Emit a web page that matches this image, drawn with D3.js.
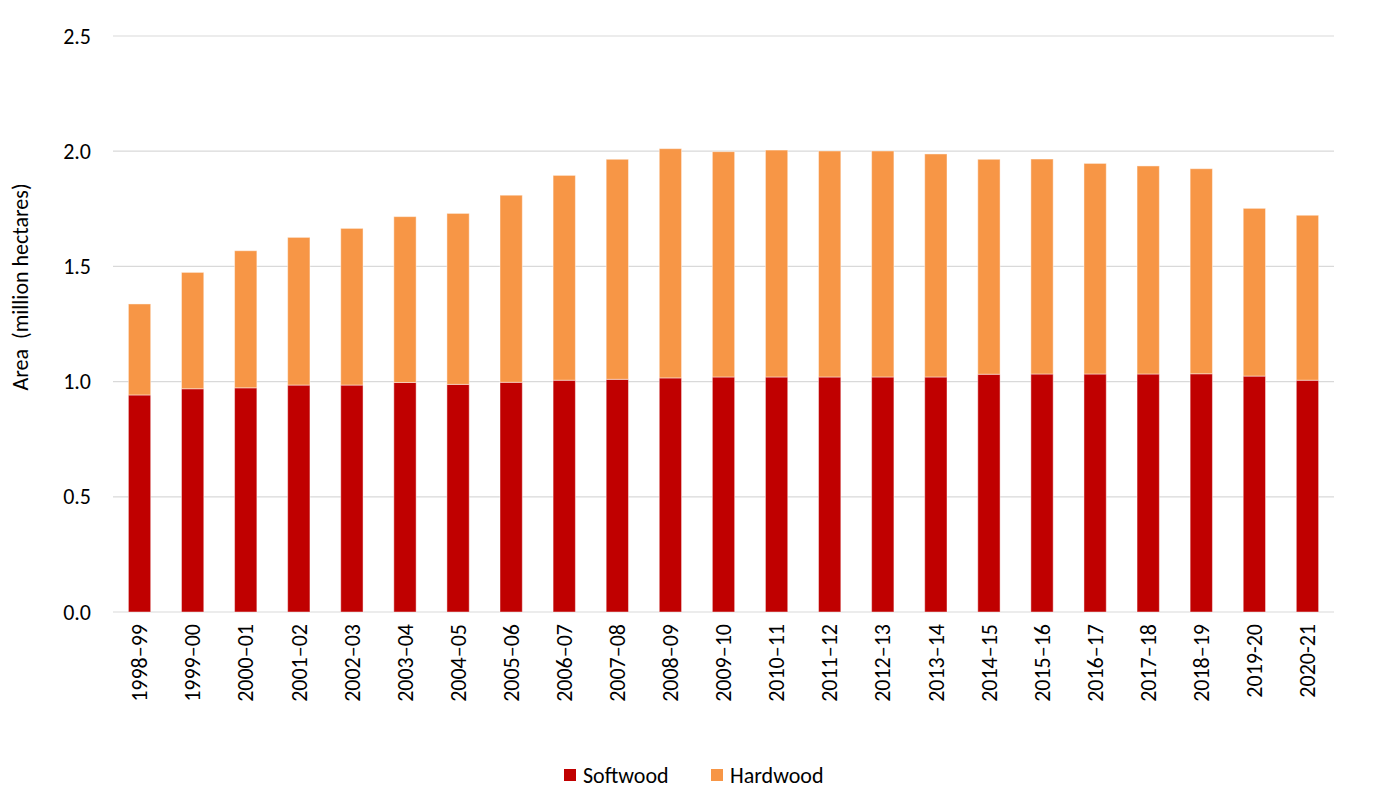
<!DOCTYPE html>
<html>
<head>
<meta charset="utf-8">
<script src="https://cdn.jsdelivr.net/npm/d3@7"></script>
<style>
  body { margin: 0; background: #fff; }
  svg text { font-family: Carlito, Calibri, Lato, "Open Sans", sans-serif; fill: #000; }
</style>
</head>
<body>
<svg id="chart"></svg>
<script>
// Data (million hectares)
const years = ["1998–99", "1999–00", "2000–01", "2001–02", "2002–03", "2003–04", "2004–05",
  "2005–06", "2006–07", "2007–08", "2008–09", "2009–10", "2010–11", "2011–12", "2012–13",
  "2013–14", "2014–15", "2015–16", "2016–17", "2017–18", "2018–19", "2019-20", "2020-21"];

const softwood = [0.942, 0.969, 0.973, 0.985, 0.985, 0.996, 0.988, 0.997, 1.006, 1.010, 1.016,
  1.020, 1.020, 1.020, 1.020, 1.020, 1.032, 1.033, 1.033, 1.033, 1.034, 1.024, 1.006];

const totals = [1.337, 1.474, 1.568, 1.626, 1.665, 1.716, 1.730, 1.809, 1.895, 1.965, 2.011,
  1.998, 2.005, 2.001, 2.001, 1.988, 1.965, 1.966, 1.947, 1.936, 1.924, 1.752, 1.722];

const hardwood = totals.map((t, i) => +(t - softwood[i]).toFixed(3));

const seriesNames = ["Softwood", "Hardwood"];
const seriesColors = ["#C00000", "#F79646"];
const yTicks = [0, 0.5, 1.0, 1.5, 2.0, 2.5];

const W = 1379, H = 800;
const margin = { top: 36, right: 45, bottom: 188, left: 113 };
const fontSize = "22px";

const svg = d3.select("svg#chart")
    .attr("width", W)
    .attr("height", H);

const x = d3.scaleBand()
    .domain(years)
    .range([margin.left, W - margin.right])
    .paddingInner(0.58)
    .paddingOuter(0.29);

const y = d3.scaleLinear()
    .domain([0, 2.5])
    .range([H - margin.bottom, margin.top]);

// Gridlines
svg.append("g")
    .selectAll("line")
    .data(yTicks)
    .join("line")
    .attr("x1", margin.left)
    .attr("x2", W - margin.right)
    .attr("y1", d => y(d))
    .attr("y2", d => y(d))
    .attr("stroke", "#d9d9d9")
    .attr("stroke-width", 1.2);

// Y axis labels
const yAxis = svg.append("g")
    .attr("transform", `translate(${margin.left - 22},0)`)
    .call(d3.axisLeft(y).tickValues(yTicks).tickFormat(d3.format(".1f")).tickSize(0).tickPadding(0));
yAxis.select(".domain").remove();
yAxis.selectAll("text")
    .attr("font-size", fontSize)
    .style("font-family", "Carlito, Calibri, Lato, sans-serif");

// Stacked bars
const rows = years.map((yr, i) => ({ year: yr, Softwood: softwood[i], Hardwood: hardwood[i] }));
const stacked = d3.stack().keys(seriesNames)(rows);

svg.append("g")
    .selectAll("g")
    .data(stacked)
    .join("g")
    .attr("fill", (d, i) => seriesColors[i])
    .selectAll("rect")
    .data(d => d)
    .join("rect")
    .attr("x", d => x(d.data.year))
    .attr("width", x.bandwidth())
    .attr("y", d => y(d[1]))
    .attr("height", d => y(d[0]) - y(d[1]))
    .attr("stroke", "#fff")
    .attr("stroke-opacity", 0.45)
    .attr("stroke-width", 1);

// X axis labels (rotated)
const xAxis = svg.append("g")
    .attr("transform", `translate(0,${H - margin.bottom})`)
    .call(d3.axisBottom(x).tickSize(0).tickPadding(0));
xAxis.select(".domain").remove();
xAxis.selectAll("text")
    .attr("font-size", fontSize)
    .style("font-family", "Carlito, Calibri, Lato, sans-serif")
    .attr("text-anchor", "end")
    .attr("transform", "rotate(-90)")
    .attr("x", -12)
    .attr("y", 0)
    .attr("dy", "0.35em");

// Y axis title
svg.append("text")
    .attr("transform", "rotate(-90)")
    .attr("x", -287)
    .attr("y", 28)
    .attr("text-anchor", "middle")
    .attr("font-size", fontSize)
    .attr("xml:space", "preserve")
    .style("white-space", "pre")
    .text("Area  (million hectares)");

// Legend
const legendX = [564, 711];
const legend = svg.append("g")
    .selectAll("g")
    .data(seriesNames)
    .join("g")
    .attr("transform", (d, i) => `translate(${legendX[i]},775)`);

legend.append("rect")
    .attr("x", 0)
    .attr("y", -6)
    .attr("width", 12)
    .attr("height", 12)
    .attr("fill", (d, i) => seriesColors[i]);

legend.append("text")
    .attr("x", 19)
    .attr("y", 0)
    .attr("dy", "0.35em")
    .attr("font-size", fontSize)
    .text(d => d);
</script>
</body>
</html>
